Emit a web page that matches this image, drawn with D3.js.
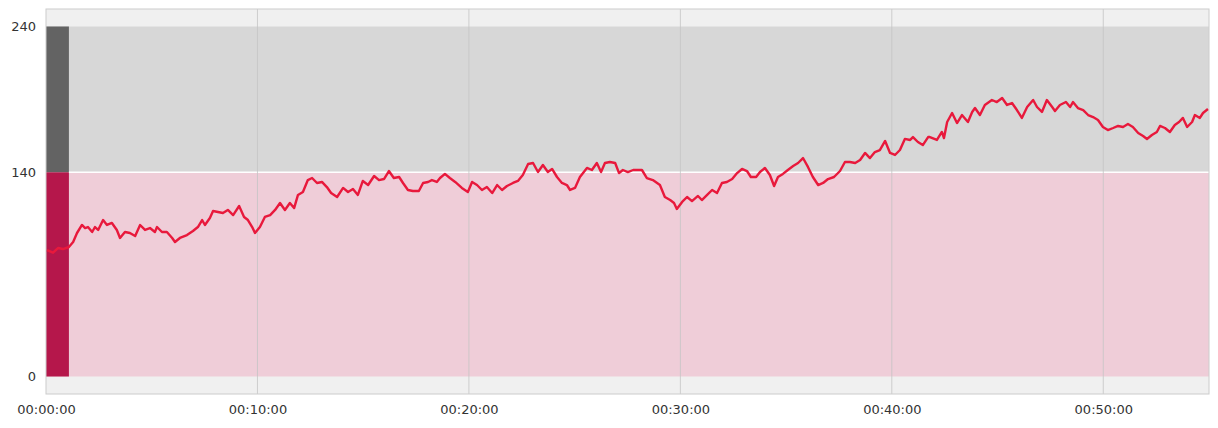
<!DOCTYPE html>
<html>
<head>
<meta charset="utf-8">
<script src="https://cdn.jsdelivr.net/npm/d3@7"></script>
<style>
  body { margin: 0; background: #fff; }
  svg { display: block; font-family: 'DejaVu Sans', sans-serif; }
</style>
</head>
<body>
<svg id="chart" width="1218" height="428"></svg>
<script>
// elapsed seconds
const times = [
  3, 20, 34, 48, 65, 77, 88, 102, 111, 119, 131, 139, 148, 162, 173, 187, 201, 210, 224, 238,
  253, 267, 281, 295, 309, 315, 329, 343, 358, 366, 380, 400, 417, 431, 443, 451, 465, 474, 488, 502,
  516, 531, 548, 562, 573, 585, 593, 607, 621, 636, 650, 664, 678, 692, 704, 715, 729, 743, 755, 769,
  783, 797, 809, 826, 843, 857, 871, 885, 899, 914, 931, 945, 959, 973, 987, 1002, 1013, 1027, 1041, 1058,
  1070, 1084, 1095, 1109, 1118, 1132, 1146, 1161, 1180, 1197, 1209, 1223, 1237, 1251, 1266, 1280, 1294, 1308, 1325, 1339,
  1353, 1368, 1382, 1396, 1410, 1424, 1436, 1450, 1464, 1478, 1487, 1501, 1515, 1535, 1549, 1563, 1575, 1586, 1600, 1615,
  1626, 1637, 1651, 1666, 1691, 1705, 1722, 1742, 1756, 1771, 1782, 1790, 1805, 1819, 1833, 1850, 1861, 1876, 1890, 1904,
  1918, 1932, 1947, 1961, 1975, 1989, 2000, 2015, 2026, 2040, 2054, 2066, 2077, 2091, 2105, 2120, 2134, 2148, 2162, 2176,
  2191, 2205, 2219, 2236, 2253, 2267, 2281, 2296, 2310, 2324, 2338, 2352, 2366, 2381, 2395, 2409, 2423, 2437, 2452, 2460,
  2474, 2488, 2503, 2508, 2528, 2542, 2548, 2557, 2571, 2585, 2599, 2616, 2628, 2636, 2650, 2664, 2684, 2698, 2713, 2727,
  2741, 2755, 2769, 2784, 2801, 2812, 2826, 2840, 2855, 2863, 2877, 2894, 2906, 2914, 2928, 2943, 2957, 2971, 2985, 2999,
  3013, 3028, 3042, 3056, 3070, 3084, 3099, 3113, 3124, 3138, 3152, 3161, 3175, 3189, 3203, 3215, 3226, 3238, 3252, 3260,
  3274, 3283, 3297
]

const values = [
  86.7, 84.9, 88.1, 87.4, 88.8, 92.2, 98.4, 103.9, 101.8, 102.5, 99.1, 102.5, 100.5, 107.3, 103.9, 105.3, 100.5, 95.0, 99.1, 98.4,
  96.3, 103.9, 100.5, 101.8, 99.1, 102.5, 99.1, 99.1, 95.0, 92.2, 95.0, 97.0, 99.8, 102.5, 107.3, 103.9, 108.7, 113.5, 112.8, 112.1,
  114.2, 110.7, 116.9, 109.4, 107.3, 102.5, 98.4, 102.5, 109.4, 110.7, 114.2, 119.0, 114.2, 119.0, 115.5, 124.5, 126.5, 134.7, 136.1, 132.7,
  133.4, 129.9, 125.8, 123.1, 129.3, 126.5, 128.6, 124.5, 134.1, 131.3, 137.5, 134.7, 135.4, 140.9, 136.1, 136.8, 132.7, 127.9, 127.2, 127.2,
  132.7, 133.4, 134.7, 133.4, 136.1, 138.9, 136.1, 133.4, 129.3, 126.5, 133.4, 131.3, 127.9, 129.9, 125.8, 131.3, 127.9, 130.6, 132.7, 134.1,
  138.2, 145.7, 146.4, 140.2, 145.0, 140.2, 142.3, 136.8, 132.7, 131.3, 127.9, 129.3, 136.8, 143.0, 141.6, 146.4, 140.2, 146.4, 147.1, 146.4,
  139.5, 141.6, 140.2, 141.6, 141.6, 136.1, 134.7, 131.3, 123.1, 121.0, 119.0, 114.9, 119.7, 123.1, 120.3, 123.8, 121.0, 124.5, 127.9, 125.8,
  132.7, 133.4, 135.4, 139.5, 142.3, 140.9, 136.8, 136.8, 140.2, 143.0, 138.2, 130.6, 136.8, 138.9, 141.6, 144.3, 146.4, 149.8, 143.7, 136.8,
  131.3, 132.7, 135.4, 136.8, 140.9, 147.1, 147.1, 146.4, 148.5, 153.3, 149.8, 153.9, 155.3, 161.5, 153.3, 151.9, 155.3, 162.9, 162.2, 164.2,
  160.8, 158.7, 164.2, 164.2, 162.2, 167.7, 163.5, 174.5, 180.7, 173.8, 179.3, 174.5, 181.4, 184.1, 179.3, 186.2, 189.6, 188.2, 191.0, 186.2,
  187.5, 182.7, 177.3, 184.8, 189.6, 184.8, 181.4, 189.6, 184.8, 182.1, 186.2, 188.2, 184.8, 188.2, 184.1, 182.7, 179.3, 177.9, 175.9, 171.1,
  169.0, 170.4, 171.8, 171.1, 173.1, 171.1, 167.0, 164.9, 162.9, 165.6, 167.7, 171.8, 170.4, 167.7, 172.5, 174.5, 177.3, 171.1, 174.5, 179.3,
  177.3, 180.7, 183.4
]

const yTicks = [0, 140, 240]
const xTicks = [0, 600, 1200, 1800, 2400, 3000]
const xTickLabels = ['00:00:00', '00:10:00', '00:20:00', '00:30:00', '00:40:00', '00:50:00']

// zones: [from, to] on value axis
const zoneLow = [0, 140]
const zoneHigh = [140, 240]
const stripEnd = 65

const svg = d3.select('#chart')

const margin = { top: 9, right: 9, bottom: 34, left: 46 }
const width = 1218 - margin.left - margin.right
const height = 428 - margin.top - margin.bottom

const x = d3.scaleLinear().domain([0, 3300]).range([0, width])
const y = d3.scaleLinear().domain([-12, 252]).range([height, 0])

const g = svg.append('g').attr('transform', `translate(${margin.left},${margin.top})`)

g.append('rect')
  .attr('width', width)
  .attr('height', height)
  .attr('fill', '#f0f0f0')

g.append('rect')
  .attr('x', 0)
  .attr('y', y(zoneHigh[1]))
  .attr('width', width)
  .attr('height', y(zoneHigh[0]) - y(zoneHigh[1]))
  .attr('fill', '#d7d7d7')

g.append('rect')
  .attr('x', 0)
  .attr('y', y(zoneLow[1]))
  .attr('width', width)
  .attr('height', y(zoneLow[0]) - y(zoneLow[1]))
  .attr('fill', '#efcdd8')

g.append('rect')
  .attr('x', 0)
  .attr('y', y(zoneHigh[1]))
  .attr('width', x(stripEnd))
  .attr('height', y(zoneHigh[0]) - y(zoneHigh[1]))
  .attr('fill', '#636363')

g.append('rect')
  .attr('x', 0)
  .attr('y', y(zoneLow[1]))
  .attr('width', x(stripEnd))
  .attr('height', y(zoneLow[0]) - y(zoneLow[1]))
  .attr('fill', '#b5174b')

g.append('line')
  .attr('x1', x(stripEnd))
  .attr('x2', width)
  .attr('y1', y(zoneLow[1]))
  .attr('y2', y(zoneLow[1]))
  .attr('stroke', '#fff')
  .attr('stroke-width', 1.5)

// vertical grid
g.selectAll('.grid')
  .data(xTicks.slice(1))
  .enter()
  .append('line')
  .attr('x1', d => x(d))
  .attr('x2', d => x(d))
  .attr('y1', 0)
  .attr('y2', height)
  .attr('stroke', '#c4c4c4')
  .attr('stroke-opacity', 0.8)

g.append('rect')
  .attr('width', width)
  .attr('height', height)
  .attr('fill', 'none')
  .attr('stroke', '#cccccc')

const points = times.map((t, i) => ({ t, v: values[i] }))

const line = d3.line()
  .x(d => x(d.t))
  .y(d => y(d.v))

g.append('path')
  .datum(points)
  .attr('fill', 'none')
  .attr('stroke', '#e8193c')
  .attr('stroke-width', 2.4)
  .attr('stroke-linejoin', 'round')
  .attr('d', line)

g.append('g')
  .attr('transform', `translate(0,${height})`)
  .call(d3.axisBottom(x).tickValues(xTicks).tickFormat((d, i) => xTickLabels[i]).tickSize(0).tickPadding(11))

g.append('g')
  .call(d3.axisLeft(y).tickValues(yTicks).tickSize(0).tickPadding(10))

svg.selectAll('.domain').remove()
svg.selectAll('.tick text')
  .attr('font-family', 'DejaVu Sans, sans-serif')
  .attr('font-size', '13px')
  .attr('fill', '#333')
</script>
</body>
</html>
